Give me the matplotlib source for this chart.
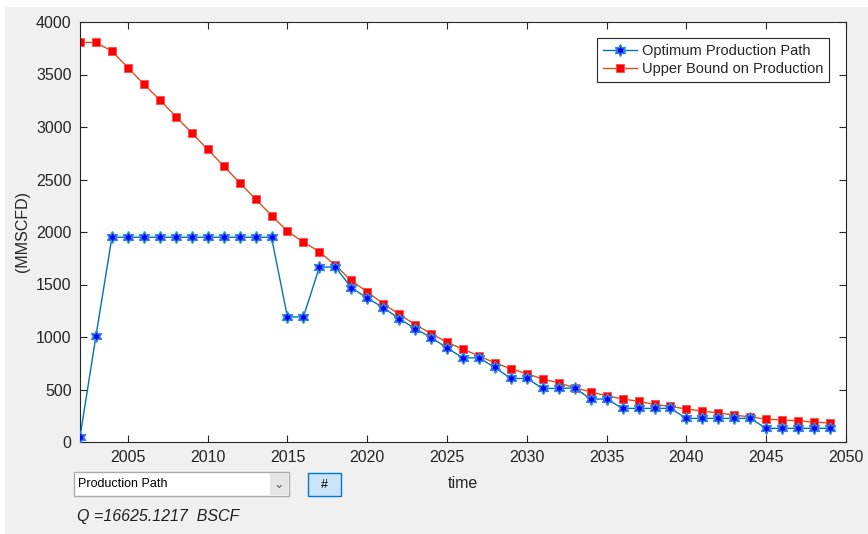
import matplotlib
matplotlib.use("Agg")
import matplotlib.pyplot as plt
from matplotlib.patches import Rectangle

years = list(range(2002, 2050))
optimum = [48, 1010, 1950, 1950, 1950, 1950, 1950, 1950, 1950, 1950, 1950, 1950,
           1950, 1191, 1191, 1666, 1666, 1470, 1371, 1280, 1175, 1080, 995, 896,
           801, 801, 710, 605, 605, 510, 510, 515, 409, 409, 320, 320, 320, 320,
           225, 225, 225, 225, 225, 130, 130, 130, 130, 130]
upper = [3805, 3805, 3722, 3566, 3408, 3259, 3100, 2945, 2787, 2629, 2470, 2314,
         2157, 2007, 1903, 1813, 1682, 1539, 1428, 1318, 1216, 1118, 1033, 949,
         884, 820, 754, 697, 651, 599, 564, 516, 478, 440, 411, 387, 358, 339,
         314, 295, 276, 257, 238, 219, 209, 202, 190, 181]
xticks = [2005, 2010, 2015, 2020, 2025, 2030, 2035, 2040, 2045, 2050]
yticks = [0, 500, 1000, 1500, 2000, 2500, 3000, 3500, 4000]
series_names = ["Optimum Production Path", "Upper Bound on Production"]
y_label = "(MMSCFD)"
x_label = "time"
dropdown_text = "Production Path"
button_text = "#"
q_text = "Q =16625.1217  BSCF"

plt.rcParams['font.family'] = ['Liberation Sans', 'DejaVu Sans']

W, H = 868, 534
fig = plt.figure(figsize=(W / 100, H / 100), dpi=100, facecolor='white')

def fx(px):
    return px / W

def fy(py):
    return 1 - py / H

# gray panel background
fig.patches.append(Rectangle((fx(5), 0), 1 - fx(5), fy(7), transform=fig.transFigure,
                             facecolor='#f0f0f0', edgecolor='none', zorder=-10))

ax = fig.add_axes([fx(80), fy(442), fx(846) - fx(80), fy(22) - fy(442)])
ax.set_facecolor('white')

ax.plot(years, optimum, color='#0072BD', lw=1.0, marker=(6, 1, 0), markersize=8.5,
        markerfacecolor='#0000FF', markeredgecolor='#2f86e0', markeredgewidth=1.1,
        label=series_names[0], zorder=3)
ax.plot(years, upper, color='#D95319', lw=1.0, marker='s', markersize=6,
        markerfacecolor='#FF0000', markeredgecolor='#ff4a4a', markeredgewidth=0.6,
        label=series_names[1], zorder=2)

ax.set_xlim(2002, 2050)
ax.set_ylim(0, 4000)
ax.set_xticks(xticks)
ax.set_yticks(yticks)
ax.tick_params(axis='both', direction='in', length=5, width=0.8, color='#262626',
               labelcolor='#262626', labelsize=11.5, top=True, right=True, pad=6)
for s in ax.spines.values():
    s.set_color('#262626')
    s.set_linewidth(0.8)

ax.set_ylabel(y_label, fontsize=11.5, color='#262626', labelpad=4)
ax.set_xlabel(x_label, fontsize=11.5, color='#262626', labelpad=8)

leg = ax.legend(loc='upper right', bbox_to_anchor=((829 - 80) / 766, 1 - (38 - 22) / 420),
                borderaxespad=0, fontsize=10.5, frameon=True, fancybox=False,
                edgecolor='#262626', framealpha=1, handlelength=2.3, handletextpad=0.35,
                borderpad=0.4, labelspacing=0.3)
leg.get_frame().set_linewidth(0.8)
for t in leg.get_texts():
    t.set_color('#262626')

# dropdown widget
fig.patches.append(Rectangle((fx(74), fy(496)), fx(289) - fx(74), fy(472) - fy(496),
                             transform=fig.transFigure, facecolor='white',
                             edgecolor='#acacac', lw=1, zorder=2))
fig.patches.append(Rectangle((fx(270), fy(495)), fx(288) - fx(270), fy(473) - fy(495),
                             transform=fig.transFigure, facecolor='#e5e5e5',
                             edgecolor='none', zorder=3))
fig.text(fx(279), fy(484), '\u2304', ha='center', va='center', fontsize=9,
         color='#606060', family=['DejaVu Sans'], zorder=4)
fig.text(fx(78), fy(484), dropdown_text, ha='left', va='center', fontsize=9,
         color='black', zorder=4)

# button
fig.patches.append(Rectangle((fx(308), fy(496)), fx(341) - fx(308), fy(473) - fy(496),
                             transform=fig.transFigure, facecolor='#cce4f7',
                             edgecolor='#0078d7', lw=1, zorder=2))
fig.text(fx(324.5), fy(484.5), button_text, ha='center', va='center', fontsize=9,
         color='black', zorder=4)

fig.text(fx(77), fy(517), q_text, ha='left', va='center', fontsize=11.5,
         style='italic', color='#202020')

fig.savefig('out.png', dpi=100, facecolor=fig.get_facecolor())
